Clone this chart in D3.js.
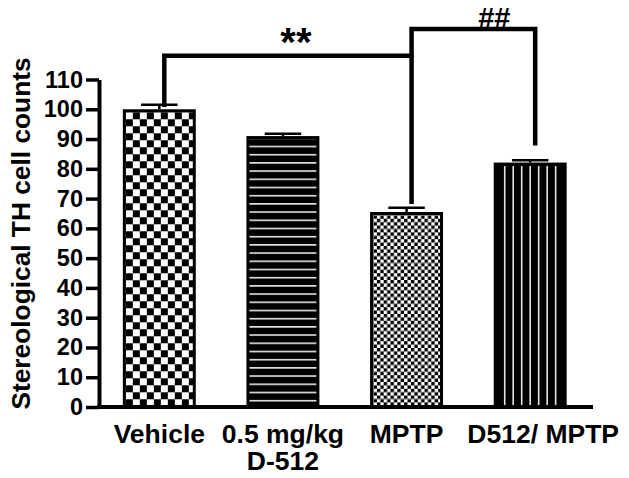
<!DOCTYPE html>
<html>
<head>
<meta charset="utf-8">
<script src="https://cdn.jsdelivr.net/npm/d3@7"></script>
<style>
  html, body { margin: 0; padding: 0; background: #fff; }
  svg { display: block; font-family: "Liberation Sans", Arial, Helvetica, sans-serif; }
</style>
</head>
<body>
<svg id="chart" width="629" height="478"></svg>
<script>
// ---- data ----
const categories = ["Vehicle", "0.5 mg/kg\nD-512", "MPTP", "D512/ MPTP"];
const means = [100, 91, 65.5, 82.1];
const sems = [1.5, 0.8, 1.4, 0.8];
const fills = ["checkerLarge", "hlines", "checkerSmall", "vlines"];
const yTicks = [0, 10, 20, 30, 40, 50, 60, 70, 80, 90, 100, 110];
const yLabel = "Stereological TH cell counts";
// significance brackets
const bracketFrom = [0, 2];
const bracketTo = [2, 3];
const bracketLevel = [118, 127];
const bracketLeftEnd = [101.5, 118];
const bracketRightEnd = [68.9, 88.6];
const bracketLabels = ["**", "##"];

// ---- scales ----
const svg = d3.select("#chart");
const x = d3.scaleBand().domain(categories).range([97.5, 592]).paddingInner(0.41).paddingOuter(0.205);
const y = d3.scaleLinear().domain([0, 110]).range([407, 79.5]);
const bw = x.bandwidth();

// ---- patterns ----
const defs = svg.append("defs");
{
  const s = 7;
  const p = defs.append("pattern").attr("id", "checkerLarge").attr("patternUnits", "userSpaceOnUse")
    .attr("width", 2 * s).attr("height", 2 * s)
    .attr("x", x(categories[0]) + 3).attr("y", y(means[0]) + 3);
  p.append("rect").attr("width", 2 * s).attr("height", 2 * s).attr("fill", "#fff");
  p.append("rect").attr("x", s).attr("y", 0).attr("width", s).attr("height", s).attr("fill", "#000");
  p.append("rect").attr("x", 0).attr("y", s).attr("width", s).attr("height", s).attr("fill", "#000");
}
{
  const s = 3.4;
  const p = defs.append("pattern").attr("id", "checkerSmall").attr("patternUnits", "userSpaceOnUse")
    .attr("width", 2 * s).attr("height", 2 * s)
    .attr("x", x(categories[2])).attr("y", y(means[2]));
  p.append("rect").attr("width", 2 * s).attr("height", 2 * s).attr("fill", "#fff");
  p.append("rect").attr("x", 0).attr("y", 0).attr("width", s).attr("height", s).attr("fill", "#000");
  p.append("rect").attr("x", s).attr("y", s).attr("width", s).attr("height", s).attr("fill", "#000");
}
{
  const h = 8.2;
  const p = defs.append("pattern").attr("id", "hlines").attr("patternUnits", "userSpaceOnUse")
    .attr("width", 20).attr("height", h)
    .attr("x", 0).attr("y", y(means[1]) + 1.4);
  p.append("rect").attr("width", 20).attr("height", h).attr("fill", "#000");
  p.append("rect").attr("y", 0).attr("width", 20).attr("height", 1.6).attr("fill", "#e6e6e6");
}

// ---- bars ----
const bars = svg.append("g");
categories.forEach((c, i) => {
  const fid = fills[i];
  const fill = fid === "vlines" ? "#000" : `url(#${fid})`;
  bars.append("rect")
    .attr("x", x(c) + 1.5)
    .attr("y", y(means[i]) + 1.5)
    .attr("width", bw - 3)
    .attr("height", y(0) - y(means[i]) - 1.5)
    .attr("fill", fill)
    .attr("stroke", "#000")
    .attr("stroke-width", 3);
  if (fid === "vlines") {
    const cx = x(c) + bw / 2;
    const gap = bw * 0.1164;
    d3.range(-3, 4).forEach(k => {
      bars.append("line")
        .attr("x1", cx + k * gap).attr("x2", cx + k * gap)
        .attr("y1", y(means[i]) + 3.5).attr("y2", y(0) - 2)
        .attr("stroke", "#e6e6e6").attr("stroke-width", 1.6);
    });
  }
});

// ---- error bars ----
const err = svg.append("g").attr("stroke", "#000");
categories.forEach((c, i) => {
  const cx = x(c) + bw / 2;
  const top = y(means[i] + sems[i]);
  err.append("line").attr("x1", cx).attr("x2", cx).attr("y1", y(means[i])).attr("y2", top).attr("stroke-width", 2.5);
  err.append("line").attr("x1", cx - bw * 0.25).attr("x2", cx + bw * 0.25).attr("y1", top).attr("y2", top).attr("stroke-width", 2.5);
});

// ---- axes ----
const yAxis = d3.axisLeft(y).tickValues(yTicks).tickSize(13).tickSizeOuter(0).tickPadding(3);
const gy = svg.append("g").attr("transform", "translate(99,0)").call(yAxis)
  .attr("font-family", null).attr("font-size", null);
gy.select(".domain").attr("stroke", "#000").attr("stroke-width", 4);
gy.selectAll(".tick line").attr("stroke", "#000").attr("stroke-width", 3.5);
gy.selectAll(".tick text").attr("fill", "#000")
  .style("font-size", "23.5px").style("font-weight", "bold")
  .style("font-family", '"Liberation Sans", Arial, sans-serif');

svg.append("line")
  .attr("x1", 97).attr("x2", x.range()[1] + 1)
  .attr("y1", y(0)).attr("y2", y(0))
  .attr("stroke", "#000").attr("stroke-width", 4);

// x labels
categories.forEach((c, i) => {
  const lines = c.split("\n");
  const dx = i === categories.length - 1 ? 13 : 0;
  lines.forEach((l, k) => {
    svg.append("text")
      .attr("x", x(c) + bw / 2 + dx)
      .attr("y", 443 + k * 26.7)
      .attr("text-anchor", "middle")
      .attr("font-size", "26.5px").attr("font-weight", "bold").attr("fill", "#000")
      .text(l);
  });
});

// y label
svg.append("text")
  .attr("transform", "translate(30,233.5) rotate(-90)")
  .attr("text-anchor", "middle")
  .attr("font-size", "26.3px").attr("font-weight", "bold").attr("fill", "#000")
  .text(yLabel);

// ---- significance brackets ----
const br = svg.append("g").attr("fill", "none").attr("stroke", "#000").attr("stroke-width", 4.5);
bracketLabels.forEach((lab, i) => {
  const x1 = x(categories[bracketFrom[i]]) + bw / 2 + 5;
  const x2 = x(categories[bracketTo[i]]) + bw / 2 + 5;
  const yl = y(bracketLevel[i]);
  br.append("path")
    .attr("d", d3.line()([[x1, y(bracketLeftEnd[i])], [x1, yl], [x2, yl], [x2, y(bracketRightEnd[i])]]))
    .attr("stroke-linejoin", "miter").attr("stroke-linecap", "square");
  const mid = (x1 + x2) / 2;
  if (i === 0) {
    svg.append("text").attr("x", mid + 8).attr("y", yl).attr("text-anchor", "middle")
      .attr("font-size", "40px").attr("font-weight", "bold").attr("fill", "#000").text(lab);
  } else {
    svg.append("text").attr("x", mid + 21).attr("y", yl - 0.5).attr("text-anchor", "middle")
      .attr("font-size", "29px").attr("font-weight", "bold").attr("fill", "#000").text(lab);
  }
});
</script>
</body>
</html>
